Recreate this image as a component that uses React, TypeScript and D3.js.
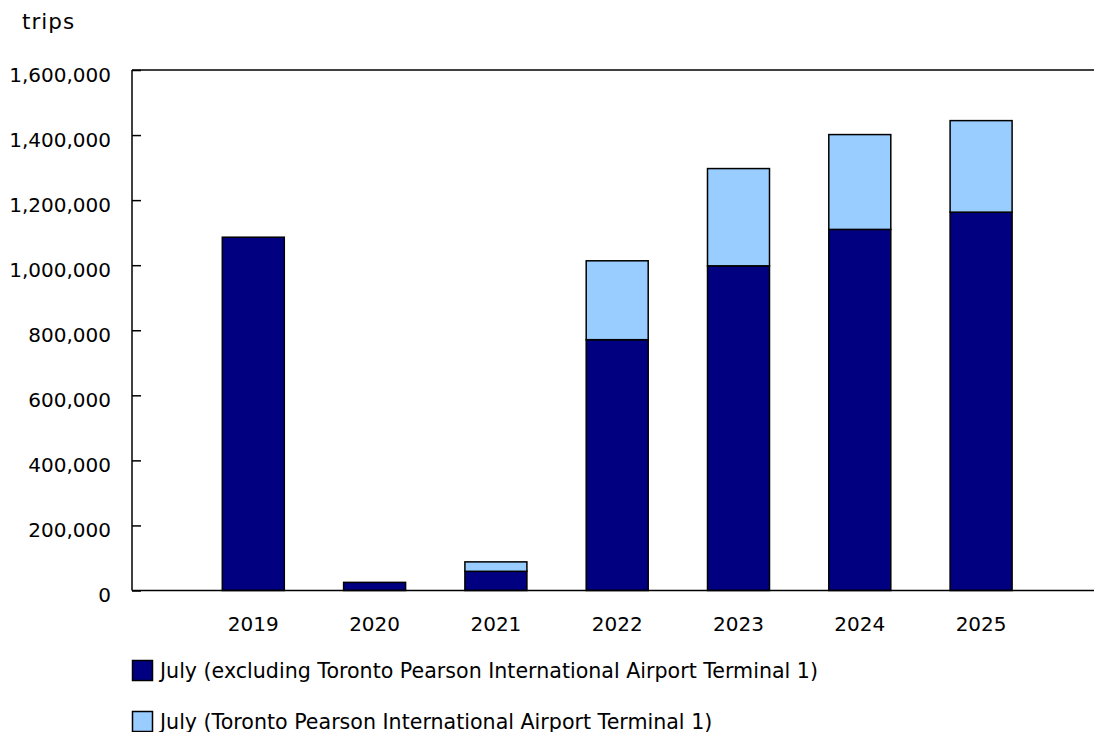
import React, { useEffect, useRef } from 'react';
import * as d3 from 'd3';

const years = ['2019', '2020', '2021', '2022', '2023', '2024', '2025'];
const excludingT1 = [1086000, 25000, 59000, 771000, 998000, 1110000, 1163000];
const pearsonT1 = [0, 0, 29000, 242500, 299000, 291500, 281400];
const yTicks = [0, 200000, 400000, 600000, 800000, 1000000, 1200000, 1400000, 1600000];
const seriesNames = [
  'July (excluding Toronto Pearson International Airport Terminal 1)',
  'July (Toronto Pearson International Airport Terminal 1)',
];
const colors = ['#000080', '#99CCFF'];

const App: React.FC = () => {
  const svgRef = useRef<SVGSVGElement>(null);

  useEffect(() => {
    if (!svgRef.current) return;
    const width = 1094;
    const height = 732;
    const left = 132;
    const top = 70;
    const bottom = 590.5;
    const font = '"DejaVu Sans", Verdana, sans-serif';

    const svg = d3.select(svgRef.current);
    svg.selectAll('*').remove();
    svg.attr('width', width).attr('height', height);

    // index scale: one empty slot before 2019, plot runs off the right edge
    const x = d3.scaleLinear().domain([-1, 7]).range([left, left + 8 * 121.3]);
    const y = d3.scaleLinear().domain([0, 1600000]).range([bottom, top]);
    const barW = 62;

    const rows = years.map((yr, i) => ({ yr, i, a: excludingT1[i], b: pearsonT1[i] }));

    // bars
    const g = svg.append('g');
    g.selectAll('rect.dark')
      .data(rows)
      .join('rect')
      .attr('class', 'dark')
      .attr('x', d => x(d.i) - barW / 2)
      .attr('y', d => y(d.a))
      .attr('width', barW)
      .attr('height', d => y(0) - y(d.a))
      .attr('fill', colors[0])
      .attr('stroke', '#000')
      .attr('stroke-width', 1.5);

    g.selectAll('rect.light')
      .data(rows.filter(d => d.b > 0))
      .join('rect')
      .attr('class', 'light')
      .attr('x', d => x(d.i) - barW / 2)
      .attr('y', d => y(d.a + d.b))
      .attr('width', barW)
      .attr('height', d => y(d.a) - y(d.a + d.b))
      .attr('fill', colors[1])
      .attr('stroke', '#000')
      .attr('stroke-width', 1.5);

    // y axis with inward ticks
    const yAxis = svg.append('g')
      .attr('transform', `translate(${left},0)`)
      .call(d3.axisLeft(y).tickValues(yTicks).tickSize(-9).tickPadding(21).tickFormat(d => d3.format(',')(d as number)));
    yAxis.select('.domain').remove();
    yAxis.selectAll('line').attr('stroke', '#000').attr('stroke-width', 1.5);
    yAxis.selectAll('text')
      .attr('font-family', font)
      .attr('font-size', 20)
      .attr('fill', '#000')
      .attr('dy', '0.55em');

    svg.append('line')
      .attr('x1', left).attr('x2', left)
      .attr('y1', top).attr('y2', bottom)
      .attr('stroke', '#000').attr('stroke-width', 1.5);
    svg.append('line')
      .attr('x1', left).attr('x2', width)
      .attr('y1', top).attr('y2', top)
      .attr('stroke', '#000').attr('stroke-width', 1.5);
    svg.append('line')
      .attr('x1', left).attr('x2', width)
      .attr('y1', bottom).attr('y2', bottom)
      .attr('stroke', '#000').attr('stroke-width', 1.5);

    // x labels
    svg.append('g')
      .selectAll('text')
      .data(rows)
      .join('text')
      .attr('x', d => x(d.i))
      .attr('y', 631)
      .attr('text-anchor', 'middle')
      .attr('font-family', font)
      .attr('font-size', 20)
      .attr('fill', '#000')
      .text(d => d.yr);

    // unit label
    svg.append('text')
      .attr('x', 22)
      .attr('y', 29)
      .attr('font-family', font)
      .attr('font-size', 21.5)
      .attr('letter-spacing', 1)
      .attr('fill', '#000')
      .text('trips');

    // legend
    const leg = svg.append('g')
      .selectAll('g')
      .data(seriesNames)
      .join('g')
      .attr('transform', (_, i) => `translate(132,${660 + i * 51})`);
    leg.append('rect')
      .attr('x', 0.5).attr('y', 0.5)
      .attr('width', 20).attr('height', 20)
      .attr('fill', (_, i) => colors[i])
      .attr('stroke', '#000')
      .attr('stroke-width', 1.5);
    leg.append('text')
      .attr('x', 28)
      .attr('y', 17.5)
      .attr('font-family', font)
      .attr('font-size', 20.6)
      .attr('fill', '#000')
      .text(d => d);
  }, []);

  return (
    <div style={{ position: 'absolute', left: 0, top: 0, background: '#fff' }}>
      <svg ref={svgRef} style={{ display: 'block' }} />
    </div>
  );
};

export default App;
